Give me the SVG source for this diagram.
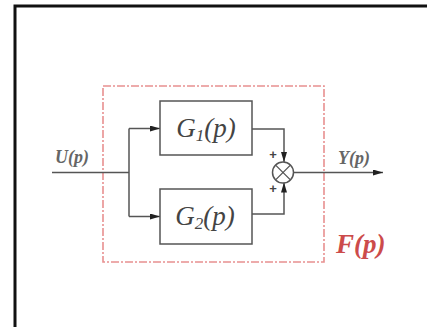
<svg xmlns="http://www.w3.org/2000/svg" width="427" height="327" viewBox="0 0 427 327">
  <defs>
    <marker id="arr" viewBox="0 0 10 6" refX="10" refY="3" markerWidth="10" markerHeight="6" markerUnits="userSpaceOnUse" orient="auto">
      <path d="M0,0 L10,3 L0,6 Z" fill="#222"/>
    </marker>
    <style>
      .wire { fill: none; stroke: #555; stroke-width: 1.5; }
      .block { fill: #fff; stroke: #555; stroke-width: 1.5; }
      .sig { font-family: "Liberation Serif", serif; font-style: italic; font-weight: bold; font-size: 18px; fill: #666; }
      .tf { font-family: "Liberation Serif", serif; font-style: italic; font-size: 27px; fill: #444; }
      .sign { font-family: "Liberation Sans", sans-serif; font-size: 13px; font-weight: bold; fill: #444; }
    </style>
  </defs>
  <rect width="427" height="327" fill="#fff"/>
  <!-- outer frame (top and left edges) -->
  <path d="M15,327 V6 H427" fill="none" stroke="#111" stroke-width="3"/>

  <!-- boundary of the equivalent system F(p) -->
  <g id="system-boundary">
    <rect x="103" y="86" width="221" height="176" fill="none" stroke="#e89090" stroke-width="1.6" stroke-dasharray="8,2,2,2"/>
    <text x="336" y="253" font-family="Liberation Serif, serif" font-style="italic" font-weight="bold" font-size="27" fill="#cc4b4b">F(p)</text>
  </g>

  <g id="connectors">
    <path class="wire" d="M52,172.5 H129"/>
    <path class="wire" d="M129,128.5 V216.5"/>
    <path class="wire" d="M129,128.5 H160" marker-end="url(#arr)"/>
    <path class="wire" d="M129,216.5 H160" marker-end="url(#arr)"/>
    <path class="wire" d="M252,129 H284 V162" marker-end="url(#arr)"/>
    <path class="wire" d="M252,214 H284 V182.5" marker-end="url(#arr)"/>
    <path class="wire" d="M293.5,172.5 H383" marker-end="url(#arr)"/>
  </g>

  <g id="input-label">
    <text class="sig" x="55" y="163">U(p)</text>
  </g>
  <g id="output-label">
    <text class="sig" x="338" y="164">Y(p)</text>
  </g>

  <g id="G1">
    <rect class="block" x="160" y="101" width="92" height="54"/>
    <text class="tf" x="206" y="137" text-anchor="middle">G<tspan font-size="17" dy="4">1</tspan><tspan dy="-4">(p)</tspan></text>
  </g>

  <g id="G2">
    <rect class="block" x="160" y="189" width="92" height="55"/>
    <text class="tf" x="205" y="225" text-anchor="middle">G<tspan font-size="17" dy="4">2</tspan><tspan dy="-4">(p)</tspan></text>
  </g>

  <g id="summer">
    <circle cx="283" cy="172.5" r="10.5" fill="#fff" stroke="#555" stroke-width="1.5"/>
    <path d="M275.6,165.1 L290.4,179.9 M290.4,165.1 L275.6,179.9" stroke="#555" stroke-width="1.3"/>
    <text class="sign" x="273" y="159" text-anchor="middle">+</text>
    <text class="sign" x="273" y="193" text-anchor="middle">+</text>
  </g>
</svg>
